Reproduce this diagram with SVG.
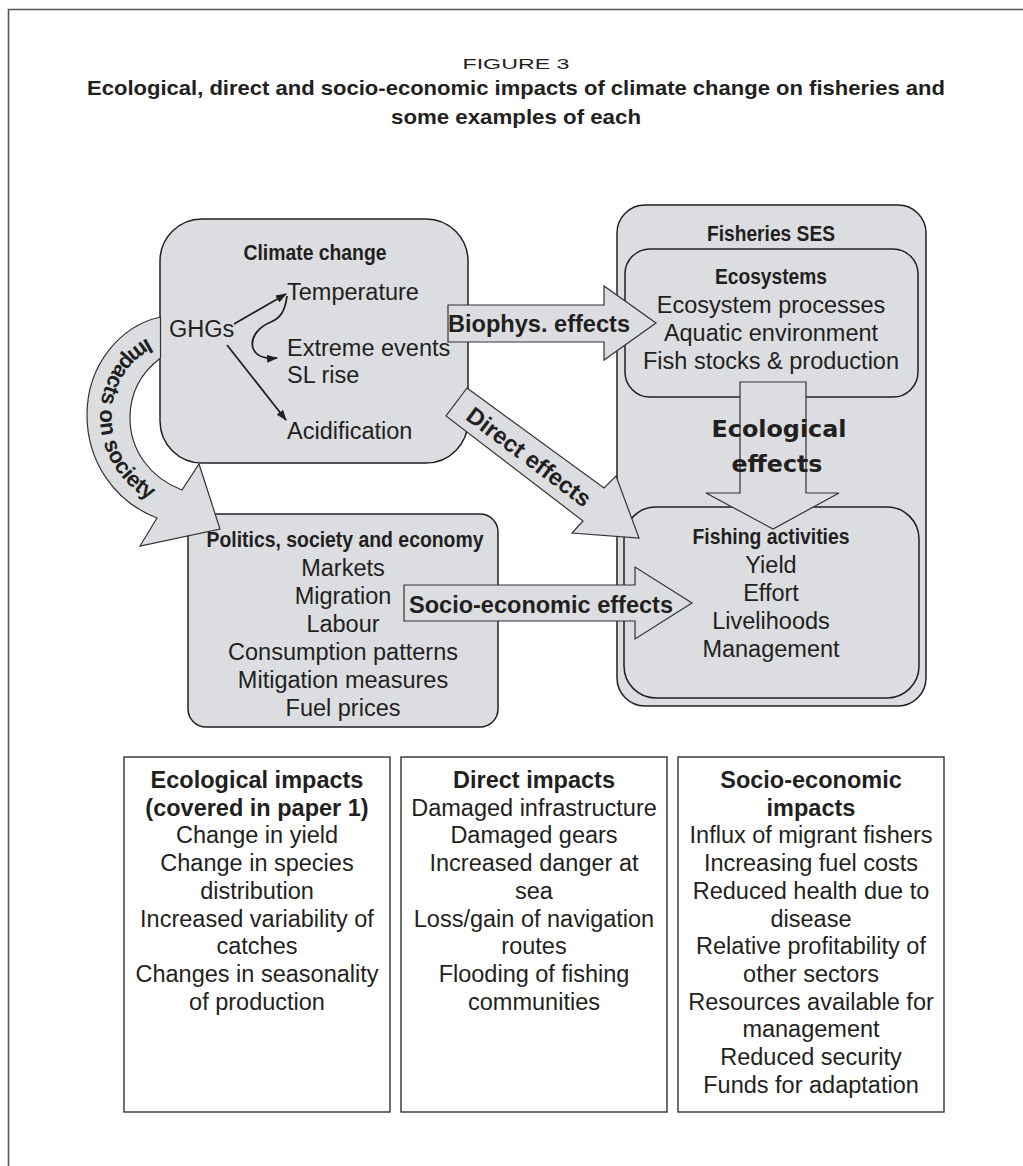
<svg xmlns="http://www.w3.org/2000/svg" width="1023" height="1166" viewBox="0 0 1023 1166">
<style>
text{font-family:"Liberation Sans",Arial,sans-serif;fill:#231f20}
.t{font-size:23.5px}
.b{font-size:23.5px;font-weight:bold}
.nb{font-size:22px;font-weight:bold}
.c{text-anchor:middle}
.box{fill:#dcdde0;stroke:#231f20;stroke-width:1.5}
.wbox{fill:#fff;stroke:#333;stroke-width:1.4}
.blk{fill:#dcdde0;stroke:#333;stroke-width:1.2;stroke-linejoin:miter}
.ln{fill:none;stroke:#231f20;stroke-width:1.8}
</style>
<defs>
<marker id="ah" markerUnits="userSpaceOnUse" markerWidth="11" markerHeight="8" refX="10" refY="4" orient="auto">
<path d="M0,0 L11,4 L0,8 z" fill="#231f20"/>
</marker>
</defs>
<g id="frame">
<path d="M8.5,1166 L8.5,9.5 L1023,9.5" fill="none" stroke="#555" stroke-width="1.6"/>
</g>
<g id="title">
<text x="516" y="69" class="c" style="font-size:15px" textLength="107" lengthAdjust="spacingAndGlyphs">FIGURE 3</text>
<text x="516" y="95" class="c" style="font-size:20.5px;font-weight:bold" textLength="858" lengthAdjust="spacingAndGlyphs">Ecological, direct and socio-economic impacts of climate change on fisheries and</text>
<text x="516" y="124" class="c" style="font-size:20.5px;font-weight:bold" textLength="250" lengthAdjust="spacingAndGlyphs">some examples of each</text>
</g>
<g id="climate-change">
<rect class="box" x="160" y="219" width="308" height="244" rx="42"/>
<text x="315" y="260" class="nb c" textLength="143" lengthAdjust="spacingAndGlyphs">Climate change</text>
<text x="287" y="300" class="t">Temperature</text>
<text x="169" y="337" class="t">GHGs</text>
<text x="287" y="356" class="t">Extreme events</text>
<text x="287" y="383" class="t">SL rise</text>
<text x="287" y="439" class="t">Acidification</text>
</g>
<g id="fisheries-ses">
<rect class="box" x="617" y="205" width="309" height="501" rx="28"/>
<text x="771" y="241" class="nb c" textLength="128" lengthAdjust="spacingAndGlyphs">Fisheries SES</text>
</g>
<g id="ecosystems">
<rect class="box" x="625" y="249" width="293" height="148" rx="25"/>
<text x="771" y="284" class="nb c" textLength="112" lengthAdjust="spacingAndGlyphs">Ecosystems</text>
<text x="771" y="313" class="t c">Ecosystem processes</text>
<text x="771" y="341" class="t c">Aquatic environment</text>
<text x="771" y="369" class="t c">Fish stocks &amp; production</text>
</g>
<g id="fishing-activities">
<rect class="box" x="624" y="507" width="295" height="191" rx="32"/>
<text x="771" y="544" class="nb c" textLength="157" lengthAdjust="spacingAndGlyphs">Fishing activities</text>
<text x="771" y="573" class="t c">Yield</text>
<text x="771" y="601" class="t c">Effort</text>
<text x="771" y="629" class="t c">Livelihoods</text>
<text x="771" y="657" class="t c">Management</text>
</g>
<g id="politics">
<rect class="box" x="188" y="514" width="310" height="213" rx="18"/>
<text x="345" y="547" class="nb c" textLength="277" lengthAdjust="spacingAndGlyphs">Politics, society and economy</text>
<text x="343" y="576" class="t c">Markets</text>
<text x="343" y="604" class="t c">Migration</text>
<text x="343" y="632" class="t c">Labour</text>
<text x="343" y="660" class="t c">Consumption patterns</text>
<text x="343" y="688" class="t c">Mitigation measures</text>
<text x="343" y="716" class="t c">Fuel prices</text>
</g>
<g id="ecological-impacts">
<rect class="wbox" x="124" y="757" width="266" height="355"/>
<text x="257" y="788" class="b c">Ecological impacts</text>
<text x="257" y="815.7" class="b c">(covered in paper 1)</text>
<text x="257" y="843.4" class="t c">Change in yield</text>
<text x="257" y="871.1" class="t c">Change in species</text>
<text x="257" y="898.8" class="t c">distribution</text>
<text x="257" y="926.5" class="t c">Increased variability of</text>
<text x="257" y="954.2" class="t c">catches</text>
<text x="257" y="981.9" class="t c">Changes in seasonality</text>
<text x="257" y="1009.6" class="t c">of production</text>
</g>
<g id="direct-impacts">
<rect class="wbox" x="401" y="757" width="266" height="355"/>
<text x="534" y="788" class="b c">Direct impacts</text>
<text x="534" y="815.7" class="t c">Damaged infrastructure</text>
<text x="534" y="843.4" class="t c">Damaged gears</text>
<text x="534" y="871.1" class="t c">Increased danger at</text>
<text x="534" y="898.8" class="t c">sea</text>
<text x="534" y="926.5" class="t c">Loss/gain of navigation</text>
<text x="534" y="954.2" class="t c">routes</text>
<text x="534" y="981.9" class="t c">Flooding of fishing</text>
<text x="534" y="1009.6" class="t c">communities</text>
</g>
<g id="socio-economic-impacts">
<rect class="wbox" x="678" y="757" width="266" height="355"/>
<text x="811" y="788" class="b c">Socio-economic</text>
<text x="811" y="815.7" class="b c">impacts</text>
<text x="811" y="843.4" class="t c">Influx of migrant fishers</text>
<text x="811" y="871.1" class="t c">Increasing fuel costs</text>
<text x="811" y="898.8" class="t c">Reduced health due to</text>
<text x="811" y="926.5" class="t c">disease</text>
<text x="811" y="954.2" class="t c">Relative profitability of</text>
<text x="811" y="981.9" class="t c">other sectors</text>
<text x="811" y="1009.6" class="t c">Resources available for</text>
<text x="811" y="1037.3" class="t c">management</text>
<text x="811" y="1065" class="t c">Reduced security</text>
<text x="811" y="1092.7" class="t c">Funds for adaptation</text>
</g>
<g id="connectors">
<path class="ln" d="M234,324 L286,294" marker-end="url(#ah)"/>
<path class="ln" d="M227,345 L286,420" marker-end="url(#ah)"/>
<path class="ln" d="M287,296 C285,312 280,318 271,322 C258,327 250,338 253,348 C256,357 265,359 277,358" marker-end="url(#ah)"/>
<path id="impacts-arrow" class="blk" d="M160.5,317 C120,326 87,365 87,415 C87,462 115,502 157,518 L140,546 L220,529 L199,464 L182,490 C150,478 130,450 130,418 C130,392 142,372 160.5,358 Z"/>
<path id="arcpath" d="M170,330 C125,340 100,378 100,415 C100,458 126,496 172,509" fill="none"/>
<text style="font-size:22px;font-weight:bold"><textPath href="#arcpath" startOffset="50%" text-anchor="middle">Impacts on society</textPath></text>
<polygon class="blk" points="448,305 604,305 604,286 656,323 604,360 604,342 448,342"/>
<text x="448" y="332" class="b" textLength="182" lengthAdjust="spacingAndGlyphs">Biophys. effects</text>
<polygon class="blk" points="467,388 604,488 616,476 639,538 572,533 583,521 446,416"/>
<text transform="translate(529,457) rotate(36.8)" x="0" y="8" class="b c">Direct effects</text>
<polygon class="blk" points="740,382 806,382 806,493 839,493 773,529 706,493 740,493"/>
<text x="779" y="437" class="c" style="font-family:'DejaVu Sans',sans-serif;font-size:23px;font-weight:bold" textLength="135" lengthAdjust="spacingAndGlyphs">Ecological</text>
<text x="777" y="472" class="c" style="font-family:'DejaVu Sans',sans-serif;font-size:23px;font-weight:bold" textLength="91" lengthAdjust="spacingAndGlyphs">effects</text>
<polygon class="blk" points="404,585 635,585 635,567 692,603 635,639 635,621 404,621"/>
<text x="409" y="613" class="b" textLength="264" lengthAdjust="spacingAndGlyphs">Socio-economic effects</text>
</g>
</svg>
